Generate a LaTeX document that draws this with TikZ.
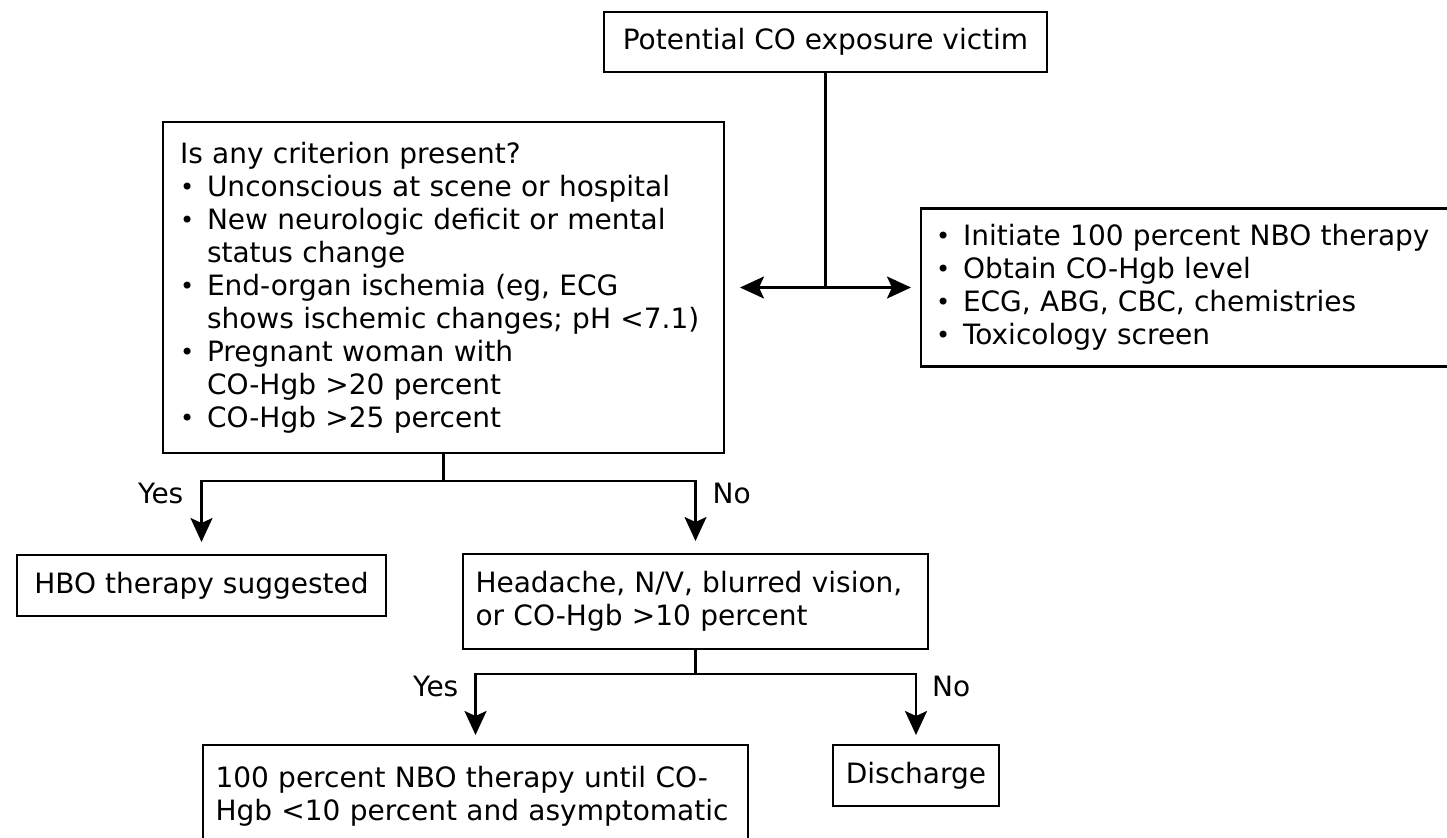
\documentclass[tikz,border=0pt]{standalone}
\usepackage{fontspec}
\setmainfont{DejaVu Sans}
\usetikzlibrary{positioning,arrows.meta}

\newcommand{\bitem}{\makebox[13.5pt][l]{\raisebox{0.5pt}{\fontsize{12}{12}\selectfont •}}}
\newcommand{\bcont}{\hspace*{13.5pt}}

\begin{document}
\begin{tikzpicture}[
    x=0.5pt, y=-0.5pt,
    font=\fontsize{14}{16.5}\selectfont,
    line width=1.2pt,
    box/.style={
      draw,
      rectangle,
      line width=1.2pt,
      inner sep=0pt,
      outer sep=0
    },
    listbox/.style={
      box,
      align=left
    },
    tip/.style={-{Stealth[length=12pt,width=11pt,inset=2.5pt]}},
    answer/.style={inner sep=0pt}
  ]

  \clip (0,0) rectangle (1447,837);

  \node [box] (victim) at (825.5,42) [minimum width=221.5pt, minimum height=30pt] {Potential CO exposure victim};

  \node [listbox] (crit) at (443.5,287.5) [text width=263.5pt, inner xsep=8.5pt, minimum height=165.5pt] {Is any criterion present?\\
    \bitem Unconscious at scene or hospital\\
    \bitem New neurologic deficit or mental\\
    \bcont status change\\
    \bitem End-organ ischemia (eg, ECG\\
    \bcont shows ischemic changes; pH <7.1)\\
    \bitem Pregnant woman with\\
    \bcont CO-Hgb >20 percent\\
    \bitem CO-Hgb >25 percent};

  \node [listbox] (init) [right=98.5pt of crit, text width=255pt, inner xsep=7.5pt, minimum height=79pt] {\bitem Initiate 100 percent NBO therapy\\
    \bitem Obtain CO-Hgb level\\
    \bitem ECG, ABG, CBC, chemistries\\
    \bitem Toxicology screen};

  \node [box] (hbo) at (201.5,585.5) [minimum width=184.5pt, minimum height=30.5pt] {HBO therapy suggested};

  \node [listbox] (head) at (695.5,601.5) [text width=220pt, inner xsep=6.25pt, minimum height=47.5pt] {Headache, N/V, blurred vision,\\
    or CO-Hgb >10 percent};

  \node [listbox] (nbo) at (475.5,796.5) [text width=260pt, inner xsep=6.25pt, minimum height=51.5pt] {100 percent NBO therapy until CO-\\
    Hgb <10 percent and asymptomatic};

  \node [box] (disc) at (916,775.5) [minimum width=83pt, minimum height=30.5pt] {Discharge};

  % first split
  \draw (victim) -- (victim |- crit) coordinate (split);
  \draw [tip] (split) -- ([xshift=8pt]crit.east);
  \draw [tip] (split) -- ([xshift=-5pt]init.west);

  % criteria
  \draw (crit.south) -- ++(0,28) coordinate (fork1);
  \draw [tip] (fork1) -| node [answer, pos=0.6, left=8.5pt] {Yes} ([yshift=6.5pt]hbo.north);
  \draw [tip] (fork1) -| node [answer, pos=0.6, right=8pt] {No} ([yshift=6.5pt]head.north);

  % symptoms
  \draw (head.south) -- ++(0,25) coordinate (fork2);
  \draw [tip] (fork2) -| node [answer, pos=0.6, left=8pt] {Yes} ([yshift=5pt]nbo.north);
  \draw [tip] (fork2) -| node [answer, pos=0.6, right=7.5pt] {No} ([yshift=5pt]disc.north);

\end{tikzpicture}
\end{document}
